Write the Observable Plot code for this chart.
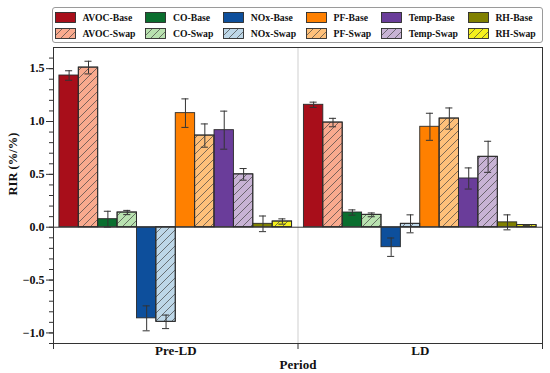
<!DOCTYPE html>
<html>
<head>
<meta charset="utf-8">
<script src="https://cdn.jsdelivr.net/npm/d3@7"></script>
<script src="https://cdn.jsdelivr.net/npm/@observablehq/plot@0.6"></script>
<style>
  body { margin: 0; background: #fff; font-family: "Liberation Serif", "Times New Roman", serif; }
  #wrap { width: 550px; height: 373px; position: relative; background: #fff; }
  #legendArea { position: relative; width: 550px; height: 45px; }
  #legend {
    position: absolute; left: 52px; top: 7px; width: 491px; height: 36px;
    box-sizing: border-box; border: 1.5px solid #9a9a9a; border-radius: 3px;
    display: grid; grid-template-columns: repeat(6, 21px auto);
    grid-template-rows: 11px 11px; row-gap: 5px;
    padding: 3.5px 0 0 2px; align-content: start; justify-content: start;
  }
  #legend .txt { padding-left: 6.5px; padding-right: 10px; font-size: 9.7px; font-weight: bold;
    line-height: 11px; white-space: nowrap; color: #111; }
  #legend svg { display: block; }
  #defs { position: absolute; width: 0; height: 0; }
  #chart svg text { font-family: "Liberation Serif", "Times New Roman", serif !important; font-weight: bold; }
</style>
</head>
<body>
<div id="wrap">
  <svg id="defs" width="0" height="0">
    <defs>
      <pattern id="hatch" patternUnits="userSpaceOnUse" width="8" height="8">
        <path d="M-2,2 L2,-2 M0,8 L8,0 M6,10 L10,6" stroke="#444" stroke-width="0.7" fill="none"/>
      </pattern>
    </defs>
  </svg>
  <div id="legendArea"><div id="legend"></div></div>
  <div id="chart"></div>
</div>
<script>
// ---- data ----
const periods = ["Pre-LD", "LD"];
const series = ["AVOC-Base", "AVOC-Swap", "CO-Base", "CO-Swap", "NOx-Base", "NOx-Swap",
                "PF-Base", "PF-Swap", "Temp-Base", "Temp-Swap", "RH-Base", "RH-Swap"];
const colors = ["#a80e1a", "#f9aa8e", "#0a6e2e", "#b9e2b0", "#0d4f9c", "#bdd7e8",
                "#ff8000", "#fec07a", "#6a3d9a", "#c8b3d5", "#808000", "#f5f01e"];
const preLDValues = [1.435, 1.51, 0.076, 0.139, -0.862, -0.895, 1.079, 0.867, 0.918, 0.50, 0.032, 0.054];
const preLDErrors = [0.045, 0.06, 0.075, 0.02, 0.118, 0.064, 0.135, 0.11, 0.18, 0.055, 0.074, 0.025];
const ldValues    = [1.158, 0.99, 0.139, 0.117, -0.189, 0.032, 0.95, 1.028, 0.461, 0.666, 0.046, 0.02];
const ldErrors    = [0.025, 0.04, 0.025, 0.018, 0.087, 0.085, 0.128, 0.10, 0.10, 0.147, 0.071, 0.005];
const yMajorTicks = [-1.0, -0.5, 0.0, 0.5, 1.0, 1.5];

// ---- layout ----
const barW = 0.0793;          // bar width in period units
const groupPad = (1 - barW * series.length) / 2;
const capHalf = 0.0145;

const rows = [];
periods.forEach((p, pi) => {
  const vals = pi === 0 ? preLDValues : ldValues;
  const errs = pi === 0 ? preLDErrors : ldErrors;
  series.forEach((s, si) => {
    const x1 = pi + groupPad + si * barW;
    rows.push({
      period: p, series: s, value: vals[si], err: errs[si],
      x1, x2: x1 + barW, xc: x1 + barW / 2, color: colors[si], swap: s.endsWith("Swap")
    });
  });
});

const font = "'Liberation Serif', 'Times New Roman', serif";
const minorTicks = d3.range(-11, 17).map(d => d / 10);

const chart = Plot.plot({
  width: 550, height: 328,
  marginTop: 2, marginBottom: 30, marginLeft: 53, marginRight: 8,
  style: `font-family: ${font}; font-weight: bold; font-size: 12px; color: #222; background: white;`,
  x: { domain: [0, 2], label: null },
  y: { domain: [-1.1, 1.7], label: null },
  color: { type: "identity" },
  marks: [
    Plot.ruleX([1], { stroke: "#cfcfcf", strokeWidth: 1 }),
    Plot.rectY(rows, { x1: "x1", x2: "x2", y1: 0, y2: "value", fill: "color", stroke: "#2a2a2a", strokeWidth: 0.9 }),
    Plot.rectY(rows.filter(d => d.swap), { x1: "x1", x2: "x2", y1: 0, y2: "value", fill: "url(#hatch)", stroke: "#2a2a2a", strokeWidth: 0.9 }),
    Plot.ruleY([0], { stroke: "#333", strokeWidth: 1 }),
    Plot.ruleX(rows, { x: "xc", y1: d => d.value - d.err, y2: d => d.value + d.err, stroke: "#333", strokeWidth: 1 }),
    Plot.ruleY(rows, { y: d => d.value + d.err, x1: d => d.xc - capHalf, x2: d => d.xc + capHalf, stroke: "#333", strokeWidth: 1 }),
    Plot.ruleY(rows, { y: d => d.value - d.err, x1: d => d.xc - capHalf, x2: d => d.xc + capHalf, stroke: "#333", strokeWidth: 1 }),
    Plot.frame({ stroke: "#333", strokeWidth: 1 }),
    Plot.axisY({ ticks: minorTicks, tickSize: 4, tickFormat: () => "", label: null, stroke: "#333" }),
    Plot.axisY({ ticks: yMajorTicks, tickSize: 7, tickPadding: 2, tickFormat: d3.format(".1f"), label: null,
                 fontSize: 12, fontWeight: "bold", fontFamily: font, fill: "#111", stroke: "#333" }),
    Plot.axisX({ ticks: [0, 1, 2], tickSize: 6, tickFormat: () => "", label: null, stroke: "#333" }),
    Plot.axisX({ ticks: periods.map((p, i) => i + 0.5), tickSize: 0, tickPadding: 2,
                 tickFormat: d => periods[Math.floor(d)], label: null, fontSize: 13, fontWeight: "bold",
                 fontFamily: font, fill: "#111" }),
    Plot.text(["Period"], { frameAnchor: "bottom", dy: 21, fontSize: 13, fontWeight: "bold", fontFamily: font,
                            fill: "#111", lineAnchor: "middle" }),
    Plot.text(["RIR (%/%)"], { frameAnchor: "left", dx: -41, rotate: -90, fontSize: 12.5, fontWeight: "bold",
                               fontFamily: font, fill: "#111" })
  ]
});
document.getElementById("chart").appendChild(chart);

// ---- legend ----
const legend = d3.select("#legend");
series.forEach((s, i) => {
  const col = Math.floor(i / 2), row = i % 2;
  const sw = legend.append("div")
    .style("grid-column", String(2 * col + 1)).style("grid-row", String(row + 1))
    .append("svg").attr("width", 21).attr("height", 11);
  sw.append("rect").attr("x", 0.5).attr("y", 0.5).attr("width", 20).attr("height", 10)
    .attr("fill", colors[i]).attr("stroke", "#2a2a2a").attr("stroke-width", 0.9);
  if (s.endsWith("Swap")) {
    sw.append("rect").attr("x", 0.5).attr("y", 0.5).attr("width", 20).attr("height", 10)
      .attr("fill", "url(#hatch)").attr("stroke", "none");
  }
  legend.append("div").attr("class", "txt")
    .style("grid-column", String(2 * col + 2)).style("grid-row", String(row + 1))
    .text(s);
});
</script>
</body>
</html>
